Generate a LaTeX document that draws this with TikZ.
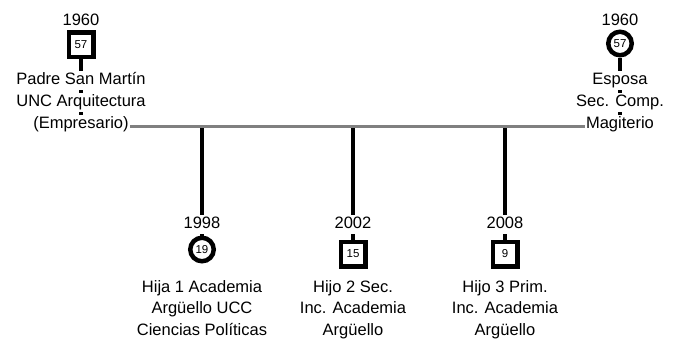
\documentclass[tikz,border=0pt]{standalone}
\usepackage{fontspec}
\setmainfont{Liberation Sans}
\usetikzlibrary{backgrounds}
\tikzset{
  lbl/.style={fill=white, inner xsep=1pt, inner ysep=0.5pt, text height=13pt,
    text depth=4.5pt, anchor=base, font=\fontsize{16.5}{20}\selectfont},
  male/.style={draw, line width=4.5pt, fill=white, minimum size=24.5pt,
    inner sep=0pt, font=\fontsize{11.5}{12}\selectfont},
  female/.style={circle, draw, line width=4.5pt, fill=white, minimum size=23.5pt,
    inner sep=0pt, font=\fontsize{11.5}{12}\selectfont},
  stem/.style={line width=3.5pt},
  spine/.style={line width=3pt, color=black!50}
}
\begin{document}
\begin{tikzpicture}[x=1pt, y=-1pt]
  \useasboundingbox (0,0) rectangle (673,343);

  % parents
  \node[lbl] (y1) at (81,25) {1960};
  \node[male] (p1) at (81,44.5) {57};
  \node[lbl] (p1a) at (81,84.5) {Padre San Martín};
  \node[lbl] (p1b) at (81,106.5) {UNC Arquitectura};
  \node[lbl] (p1c) at (81,128) {(Empresario)};
  \coordinate (sl) at (81,126);

  \node[lbl] (y2) at (620,25) {1960};
  \node[female] (p2) at (620,43.5) {57};
  \node[lbl] (p2a) at (620,84.5) {Esposa};
  \node[lbl] (p2b) at (620,106.5) {Sec. Comp.};
  \node[lbl] (p2c) at (620,128) {Magiterio};
  \coordinate (sr) at (620,126);

  % children
  \coordinate (j1) at (202,126);
  \node[lbl] (y3) at (202,228.5) {1998};
  \node[female] (c1) at (202,249.5) {19};
  \node[lbl] (c1a) at (202,292) {Hija 1 Academia};
  \node[lbl] (c1b) at (202,313.5) {Argüello UCC};
  \node[lbl] (c1c) at (202,335) {Ciencias Políticas};

  \coordinate (j2) at (353,126);
  \node[lbl] (y4) at (353,228.5) {2002};
  \node[male] (c2) at (353,254) {15};
  \node[lbl] (c2a) at (353,292) {Hijo 2 Sec.};
  \node[lbl] (c2b) at (353,313.5) {Inc. Academia};
  \node[lbl] (c2c) at (353,335) {Argüello};

  \coordinate (j3) at (505,126);
  \node[lbl] (y5) at (505,228.5) {2008};
  \node[male] (c3) at (505,254) {9};
  \node[lbl] (c3a) at (505,292) {Hijo 3 Prim.};
  \node[lbl] (c3b) at (505,313.5) {Inc. Academia};
  \node[lbl] (c3c) at (505,335) {Argüello};

  \begin{scope}[on background layer]
    \draw[stem] (p1.south) -- (sl);
    \draw[stem] (p2.south) -- (sr);
    \draw[stem] (j1) -- (c1.north);
    \draw[stem] (j2) -- (c2.north);
    \draw[stem] (j3) -- (c3.north);
    \draw[spine] (sl) -- (sr);
  \end{scope}
\end{tikzpicture}
\end{document}
